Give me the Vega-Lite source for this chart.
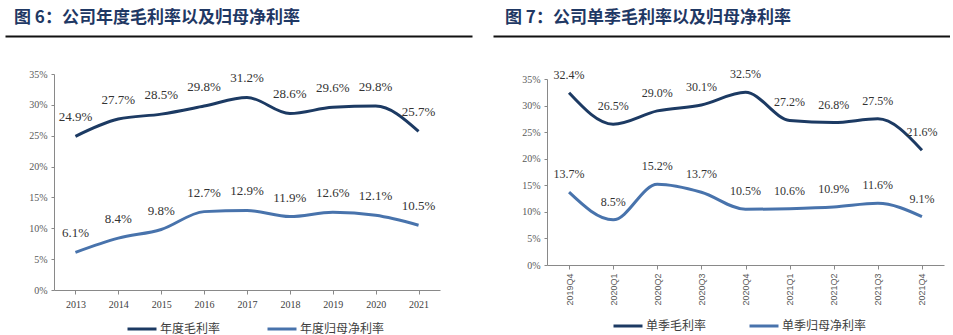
{
  "$schema": "https://vega.github.io/schema/vega-lite/v6.json",
  "padding": {"left": 5, "top": 9, "right": 0, "bottom": 0},
  "background": "white",
  "datasets": {
    "annual": [
      {"year": "2013", "series": "年度毛利率", "value": 0.249},
      {"year": "2014", "series": "年度毛利率", "value": 0.277},
      {"year": "2015", "series": "年度毛利率", "value": 0.285},
      {"year": "2016", "series": "年度毛利率", "value": 0.298},
      {"year": "2017", "series": "年度毛利率", "value": 0.312},
      {"year": "2018", "series": "年度毛利率", "value": 0.286},
      {"year": "2019", "series": "年度毛利率", "value": 0.296},
      {"year": "2020", "series": "年度毛利率", "value": 0.298},
      {"year": "2021", "series": "年度毛利率", "value": 0.257},
      {"year": "2013", "series": "年度归母净利率", "value": 0.061},
      {"year": "2014", "series": "年度归母净利率", "value": 0.084},
      {"year": "2015", "series": "年度归母净利率", "value": 0.098},
      {"year": "2016", "series": "年度归母净利率", "value": 0.127},
      {"year": "2017", "series": "年度归母净利率", "value": 0.129},
      {"year": "2018", "series": "年度归母净利率", "value": 0.119},
      {"year": "2019", "series": "年度归母净利率", "value": 0.126},
      {"year": "2020", "series": "年度归母净利率", "value": 0.121},
      {"year": "2021", "series": "年度归母净利率", "value": 0.105}
    ],
    "quarterly": [
      {"quarter": "2019Q4", "series": "单季毛利率", "value": 0.324},
      {"quarter": "2020Q1", "series": "单季毛利率", "value": 0.265},
      {"quarter": "2020Q2", "series": "单季毛利率", "value": 0.290},
      {"quarter": "2020Q3", "series": "单季毛利率", "value": 0.301},
      {"quarter": "2020Q4", "series": "单季毛利率", "value": 0.325},
      {"quarter": "2021Q1", "series": "单季毛利率", "value": 0.272},
      {"quarter": "2021Q2", "series": "单季毛利率", "value": 0.268},
      {"quarter": "2021Q3", "series": "单季毛利率", "value": 0.275},
      {"quarter": "2021Q4", "series": "单季毛利率", "value": 0.216},
      {"quarter": "2019Q4", "series": "单季归母净利率", "value": 0.137},
      {"quarter": "2020Q1", "series": "单季归母净利率", "value": 0.085},
      {"quarter": "2020Q2", "series": "单季归母净利率", "value": 0.152},
      {"quarter": "2020Q3", "series": "单季归母净利率", "value": 0.137},
      {"quarter": "2020Q4", "series": "单季归母净利率", "value": 0.105},
      {"quarter": "2021Q1", "series": "单季归母净利率", "value": 0.106},
      {"quarter": "2021Q2", "series": "单季归母净利率", "value": 0.109},
      {"quarter": "2021Q3", "series": "单季归母净利率", "value": 0.116},
      {"quarter": "2021Q4", "series": "单季归母净利率", "value": 0.091}
    ],
    "anchor": [{"p": 0.5}]
  },
  "config": {
    "view": {"stroke": null}
  },
  "spacing": 21,
  "resolve": {
    "scale": {"color": "independent", "x": "independent", "y": "independent"},
    "legend": {"color": "independent"}
  },
  "hconcat": [
    {
      "spacing": 33,
      "resolve": {"scale": {"x": "independent"}},
      "vconcat": [
        {
          "width": 467,
          "height": 1,
          "data": {"name": "anchor"},
          "title": {
            "text": "图 6：公司年度毛利率以及归母净利率",
            "anchor": "start",
            "frame": "group",
            "dx": 9,
            "offset": -9,
            "baseline": "bottom",
            "font": "Noto Sans CJK SC",
            "fontSize": 17,
            "fontWeight": "bold",
            "color": "#1F3864"
          },
          "mark": {"type": "point", "opacity": 0, "size": 1},
          "encoding": {
            "x": {
              "field": "p", "type": "quantitative", "scale": {"domain": [0, 1]},
              "axis": {"domain": true, "domainColor": "#111111", "domainWidth": 2, "labels": false, "ticks": false, "grid": false, "title": null}
            }
          }
        },
        {
          "spacing": 0,
          "resolve": {"scale": {"x": "independent", "y": "independent"}},
          "hconcat": [
            {
              "width": 1,
              "height": 1,
              "data": {"name": "anchor"},
              "mark": {"type": "point", "opacity": 0, "size": 1}
            },
            {
              "width": 386,
              "height": 216,
              "data": {"name": "annual"},
              "encoding": {
                "x": {
                  "field": "year", "type": "ordinal", "sort": null,
                  "scale": {"type": "point", "padding": 0.5},
                  "axis": {"title": null, "labelAngle": 0, "domainColor": "#898989", "tickColor": "#898989", "tickSize": 4, "labelFont": "Liberation Serif", "labelFontSize": 10, "labelColor": "#404040", "labelPadding": 5, "grid": false}
                },
                "y": {
                  "field": "value", "type": "quantitative",
                  "scale": {"domain": [0, 0.35]},
                  "axis": {"values": [0, 0.05, 0.1, 0.15, 0.2, 0.25, 0.3, 0.35], "format": ".0%", "grid": false, "domainColor": "#898989", "tickColor": "#898989", "tickSize": 3, "labelFont": "Liberation Serif", "labelFontSize": 10, "labelColor": "#595959", "labelPadding": 4, "title": null, "minExtent": 48, "maxExtent": 48}
                },
                "color": {
                  "field": "series", "type": "nominal",
                  "scale": {"domain": ["年度毛利率", "年度归母净利率"], "range": ["#1C3A63", "#4873AC"]},
                  "legend": {"orient": "none", "legendX": 121, "legendY": 278, "direction": "horizontal", "title": null, "symbolType": "stroke", "symbolSize": 841, "symbolStrokeWidth": 3, "labelFont": "Noto Sans CJK SC", "labelFontSize": 12, "labelColor": "#404040", "columnPadding": 40, "labelOffset": 2}
                }
              },
              "layer": [
                {"mark": {"type": "line", "interpolate": "monotone", "strokeWidth": 3}},
                {
                  "mark": {"type": "text", "dy": -19, "baseline": "middle", "font": "Liberation Serif", "fontSize": 13},
                  "encoding": {
                    "text": {"field": "value", "type": "quantitative", "format": ".1%"},
                    "color": {"value": "#333333"}
                  }
                }
              ]
            }
          ]
        }
      ]
    },
    {
      "spacing": 32,
      "resolve": {"scale": {"x": "independent"}},
      "vconcat": [
        {
          "width": 457,
          "height": 1,
          "data": {"name": "anchor"},
          "title": {
            "text": "图 7：公司单季毛利率以及归母净利率",
            "anchor": "start",
            "frame": "group",
            "dx": 12,
            "offset": -9,
            "baseline": "bottom",
            "font": "Noto Sans CJK SC",
            "fontSize": 17,
            "fontWeight": "bold",
            "color": "#1F3864"
          },
          "mark": {"type": "point", "opacity": 0, "size": 1},
          "encoding": {
            "x": {
              "field": "p", "type": "quantitative", "scale": {"domain": [0, 1]},
              "axis": {"domain": true, "domainColor": "#111111", "domainWidth": 2, "labels": false, "ticks": false, "grid": false, "title": null}
            }
          }
        },
        {
          "spacing": 0,
          "resolve": {"scale": {"x": "independent", "y": "independent"}},
          "hconcat": [
            {
              "width": 1,
              "height": 1,
              "data": {"name": "anchor"},
              "mark": {"type": "point", "opacity": 0, "size": 1}
            },
            {
              "width": 397,
              "height": 186,
              "data": {"name": "quarterly"},
              "encoding": {
                "x": {
                  "field": "quarter", "type": "ordinal", "sort": null,
                  "scale": {"type": "point", "padding": 0.5},
                  "axis": {"title": null, "labelAngle": 270, "domainColor": "#898989", "tickColor": "#898989", "tickSize": 4, "labelFont": "Liberation Sans", "labelFontSize": 9, "labelColor": "#595959", "labelPadding": 4, "grid": false}
                },
                "y": {
                  "field": "value", "type": "quantitative",
                  "scale": {"domain": [0, 0.35]},
                  "axis": {"values": [0, 0.05, 0.1, 0.15, 0.2, 0.25, 0.3, 0.35], "format": ".0%", "grid": false, "domainColor": "#898989", "tickColor": "#898989", "tickSize": 3, "labelFont": "Liberation Serif", "labelFontSize": 10, "labelColor": "#595959", "labelPadding": 4, "title": null, "minExtent": 53, "maxExtent": 53}
                },
                "color": {
                  "field": "series", "type": "nominal",
                  "scale": {"domain": ["单季毛利率", "单季归母净利率"], "range": ["#1C3A63", "#4873AC"]},
                  "legend": {"orient": "none", "legendX": 119, "legendY": 275, "direction": "horizontal", "title": null, "symbolType": "stroke", "symbolSize": 841, "symbolStrokeWidth": 3, "labelFont": "Noto Sans CJK SC", "labelFontSize": 12, "labelColor": "#404040", "columnPadding": 36, "labelOffset": 2}
                }
              },
              "layer": [
                {"mark": {"type": "line", "interpolate": "monotone", "strokeWidth": 3}},
                {
                  "mark": {"type": "text", "dy": -18, "baseline": "middle", "font": "Liberation Serif", "fontSize": 12},
                  "encoding": {
                    "text": {"field": "value", "type": "quantitative", "format": ".1%"},
                    "color": {"value": "#333333"}
                  }
                }
              ]
            }
          ]
        }
      ]
    }
  ]
}
